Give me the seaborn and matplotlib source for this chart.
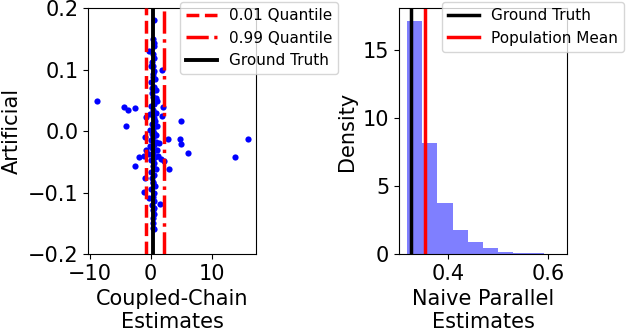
import numpy as np
import matplotlib
matplotlib.use("Agg")
import matplotlib.pyplot as plt
import seaborn as sns

# coupled-chain estimates (x) with artificial vertical jitter (y)
coupled_x = [-8.9, -4.4, -3.8, -2.6, -4.0, -2.0, -2.5, 4.9, 4.75, 5.0, 6.2, 15.95, 13.9,
             2.8, 3.0, 2.1, 2.0, 1.8, 1.85, 1.6, -1.15, -0.3, -0.3, -0.7, -1.0, -0.8, -1.1,
             -1.0, -0.2, 1.4, 1.2, 0.9, 0.5, 0.5, 0.45, 0.1,
             0.4, 0.6, 0.2, 0.5, 0.3, 0.7, 0.1, 0.5, 0.8, 0.2, 0.4, 1.0, 0.6, 0.0, 0.3, 0.9,
             -0.2, 0.5, 0.7, 0.2, 1.1, 0.4, -0.1, 0.6, 0.9, 0.3, 0.0, 0.8, 0.5, 0.2, 1.0, 0.4,
             -0.3, 0.7, 0.1, 0.5, 0.3, 0.9, 0.0, 0.6, 0.2, 0.4, 0.7, 0.1, 0.5, 0.3, 0.6, 0.2,
             0.4, 0.5, 0.3, 0.4, 0.5, 0.3, 0.5, 0.35, 0.45, 0.25, 0.55, 0.15, 0.45, 0.35, 0.55,
             1.7]
coupled_y = [0.048, 0.0385, 0.034, 0.037, 0.0087, -0.043, -0.057, 0.017, -0.0135, -0.021,
             -0.035, -0.013, -0.043, -0.0125, -0.062, -0.049, 0.0385, 0.025, 0.1, -0.118,
             -0.099, -0.109, 0.13, 0.023, -0.009, -0.031, -0.040, -0.076, -0.025, -0.019,
             -0.040, 0.053, 0.18, 0.143, -0.157, 0.105,
             0.125, 0.118, 0.112, 0.098, 0.092, 0.085, 0.079, 0.072, 0.066, 0.061, 0.056,
             0.048, 0.044, 0.040, 0.034, 0.030, 0.027, 0.021, 0.016, 0.012, 0.008, 0.004,
             0.001, -0.003, -0.006, -0.010, -0.014, -0.018, -0.022, -0.027, -0.031, -0.035,
             -0.038, -0.043, -0.047, -0.052, -0.057, -0.061, -0.066, -0.071, -0.077, -0.083,
             -0.089, -0.095, -0.101, -0.108, -0.114, -0.121, -0.128, -0.135, -0.142, -0.150,
             -0.16, 0.15, 0.138, 0.106, 0.088, 0.070, 0.052, -0.005, -0.045, -0.085, -0.125,
             -0.045]

ground_truth = 0.325
q01 = -0.7
q99 = 2.1

# naive parallel histogram (density per bin)
naive_edges = [0.318, 0.348, 0.378, 0.409, 0.439, 0.469, 0.500, 0.530, 0.560, 0.591, 0.621]
naive_density = [17.14, 8.15, 3.76, 1.78, 0.90, 0.46, 0.15, 0.07, 0.07, 0.03]
population_mean = 0.3547

fig = plt.figure(figsize=(6.26, 3.32), dpi=100)
ax1 = fig.add_axes([0.1406, 0.2349, 0.2684, 0.741])
ax2 = fig.add_axes([0.6374, 0.2349, 0.2684, 0.741])

# left: coupled chain
sns.scatterplot(x=coupled_x, y=coupled_y, ax=ax1, color="blue", s=20, linewidth=0, zorder=2)
ax1.axvline(q01, color="red", ls="--", lw=2.5, label="0.01 Quantile", zorder=3)
ax1.axvline(q99, color="red", ls="-.", lw=2.5, label="0.99 Quantile", zorder=3)
ax1.axvline(ground_truth, color="black", lw=2.8, label="Ground Truth", zorder=4)
ax1.set_xlim(-10.3, 17.3)
ax1.set_ylim(-0.2, 0.2)
ax1.set_yticks([-0.2, -0.1, 0.0, 0.1, 0.2])
ax1.set_xticks([-10, 0, 10])
ax1.set_xlabel("Coupled-Chain\nEstimates", fontsize=15)
ax1.set_ylabel("Artificial", fontsize=15)
ax1.tick_params(labelsize=15)
ax1.legend(loc="upper right", bbox_to_anchor=(1.49, 1.025), borderaxespad=0, fontsize=11)

# right: naive parallel
centers = [(a + b) / 2 for a, b in zip(naive_edges[:-1], naive_edges[1:])]
sns.histplot(x=centers, weights=naive_density, bins=naive_edges, stat="count", ax=ax2,
             color="blue", alpha=0.5, linewidth=0, edgecolor=None)
ax2.axvline(ground_truth, color="black", lw=2.5, label="Ground Truth")
ax2.axvline(population_mean, color="red", lw=2.5, label="Population Mean")
ax2.set_xlim(0.302, 0.638)
ax2.set_ylim(0, 18.1)
ax2.set_xticks([0.4, 0.6])
ax2.set_yticks([0, 5, 10, 15])
ax2.set_xlabel("Naive Parallel\nEstimates", fontsize=15)
ax2.set_ylabel("Density", fontsize=15)
ax2.tick_params(labelsize=15)
ax2.legend(loc="upper right", bbox_to_anchor=(1.34, 1.025), borderaxespad=0, fontsize=11)

fig.savefig("out.png", dpi=100)
